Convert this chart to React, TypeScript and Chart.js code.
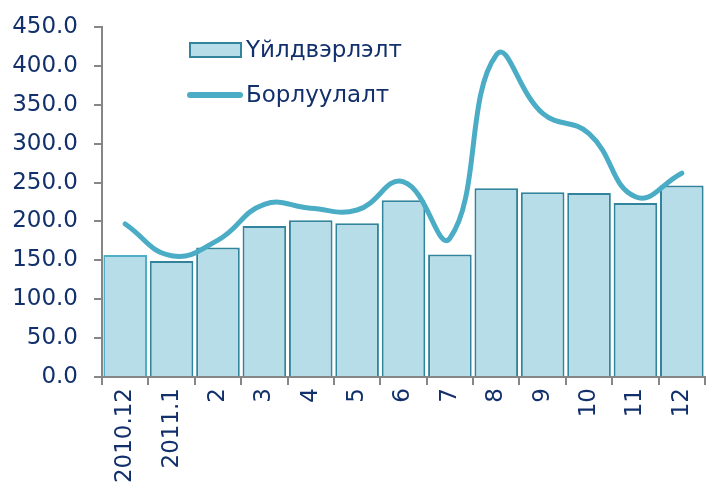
import React, { useEffect, useRef } from "react";
import { Chart, registerables } from "chart.js";

Chart.register(...registerables);

const categories = ["2010.12", "2011.1", "2", "3", "4", "5", "6", "7", "8", "9", "10", "11", "12"];
const productionValues = [157, 149, 166.5, 194, 201.6, 197.7, 227.3, 157.5, 242.6, 237.6, 236.7, 223.8, 246.1];
const salesValues = [196.7, 156, 176, 222, 217, 214.7, 251, 178.5, 414, 339, 313, 231.8, 262];
const productionLabel = "Үйлдвэрлэлт";
const salesLabel = "Борлуулалт";

const FONT = "DejaVu Sans";
const TEXT = "#12306B";
const AXIS = "#868686";
const BAR_FILL = "#B7DDE8";
const BAR_BORDER = "#31849B";
const LINE = "#4BACC6";

const legendPlugin = {
  id: "customLegend",
  afterDraw(chart: any) {
    const ctx = chart.ctx;
    ctx.save();
    ctx.font = `23px "${FONT}"`;
    ctx.textBaseline = "middle";
    ctx.textAlign = "left";
    ctx.fillStyle = BAR_FILL;
    ctx.fillRect(190, 43, 51, 14);
    ctx.strokeStyle = BAR_BORDER;
    ctx.lineWidth = 2;
    ctx.strokeRect(190, 43, 51, 14);
    ctx.fillStyle = TEXT;
    ctx.fillText(productionLabel, 246, 51);
    ctx.strokeStyle = LINE;
    ctx.lineWidth = 6;
    ctx.lineCap = "round";
    ctx.beginPath();
    ctx.moveTo(190, 95);
    ctx.lineTo(240, 95);
    ctx.stroke();
    ctx.fillText(salesLabel, 246, 96);
    ctx.restore();
  },
};

export default function App() {
  const ref = useRef<HTMLCanvasElement>(null);
  useEffect(() => {
    const chart = new Chart(ref.current!, {
      type: "bar",
      data: {
        labels: categories,
        datasets: [
          {
            type: "line",
            label: salesLabel,
            data: salesValues,
            borderColor: LINE,
            borderWidth: 5,
            tension: 0.45,
            pointRadius: 0,
            fill: false,
            order: 0,
            borderCapStyle: "round",
          } as any,
          {
            type: "bar",
            label: productionLabel,
            data: productionValues,
            backgroundColor: BAR_FILL,
            borderColor: categories.map((_, i) => (i === 0 ? "#4FAFC8" : BAR_BORDER)),
            borderWidth: 2,
            categoryPercentage: 1,
            barPercentage: 0.94,
            order: 1,
          },
        ],
      },
      options: {
        responsive: false,
        animation: false,
        layout: { padding: { top: 27, right: 1, left: 0, bottom: 0 } },
        plugins: { legend: { display: false }, tooltip: { enabled: false } },
        scales: {
          x: {
            offset: true,
            grid: { display: true, drawOnChartArea: false, drawTicks: true, tickLength: 8, color: AXIS, lineWidth: 2, offset: true },
            border: { color: AXIS, width: 2 },
            ticks: {
              color: TEXT,
              font: { family: FONT, size: 23 },
              maxRotation: 90,
              minRotation: 90,
              padding: 3,
              autoSkip: false,
            },
            afterFit(scale: any) {
              scale.height = 109;
              scale.paddingLeft = 0;
              scale.paddingRight = 0;
            },
          },
          y: {
            min: 0,
            max: 450,
            grid: { display: true, drawOnChartArea: false, drawTicks: true, tickLength: 8, color: AXIS, lineWidth: 2 },
            border: { color: AXIS, width: 2 },
            ticks: {
              stepSize: 50,
              color: TEXT,
              font: { family: FONT, size: 23 },
              padding: 16,
              callback: (v: any) => Number(v).toFixed(1),
            },
            afterFit(scale: any) {
              scale.width = 102;
              scale.paddingTop = 0;
              scale.paddingBottom = 0;
            },
          },
        },
      },
      plugins: [legendPlugin],
    });
    return () => chart.destroy();
  }, []);
  return (
    <div style={{ position: "fixed", left: 0, top: 0, width: 706, height: 486, background: "#fff" }}>
      <canvas ref={ref} width={706} height={486} style={{ width: 706, height: 486 }} />
    </div>
  );
}
